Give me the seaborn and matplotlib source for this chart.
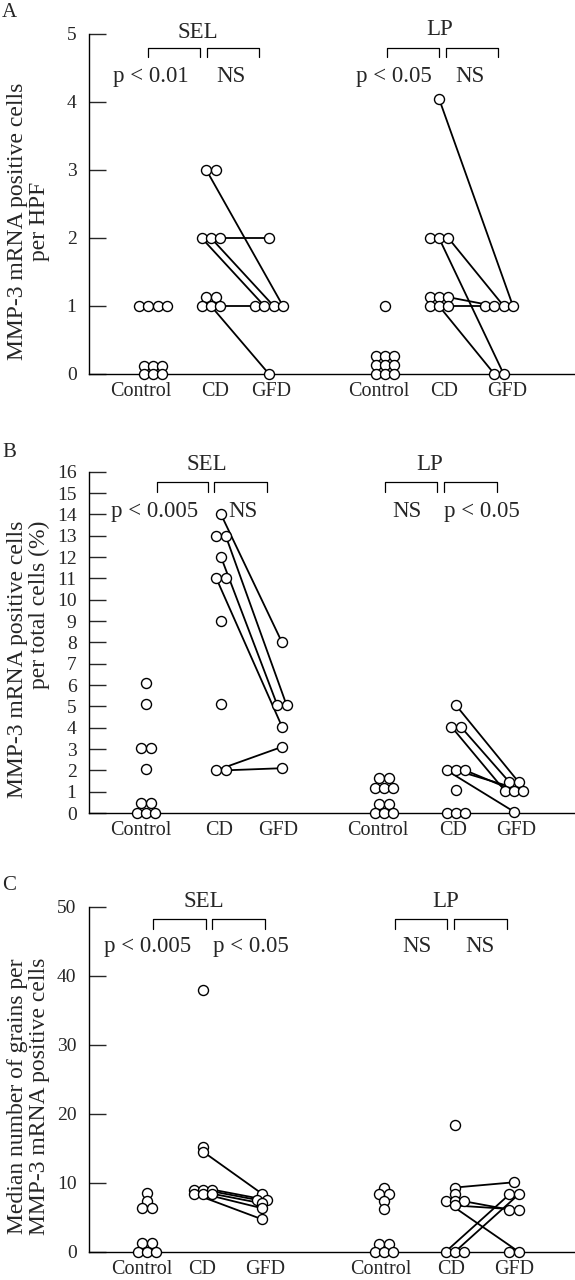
import numpy as np
import pandas as pd
import matplotlib
matplotlib.use("Agg")
import matplotlib.pyplot as plt
from matplotlib.lines import Line2D
import seaborn as sns
from collections import Counter, defaultdict

# ---- data ----
groups = ["Control", "CD", "GFD"]

# panel A: MMP-3 mRNA positive cells per HPF
a_sel_control = [1, 1, 1, 1, 0.12, 0.12, 0.12, 0, 0, 0]
a_sel_cd = [3, 3, 2, 2, 2, 1.13, 1.13, 1, 1, 1]
a_sel_gfd = [2, 1, 1, 1, 1, 0]
a_sel_pairs = [(0, 4), (4, 0), (2, 2), (3, 3), (9, 1), (8, 5)]
a_lp_control = [1, 0.26, 0.26, 0.26, 0.13, 0.13, 0.13, 0, 0, 0]
a_lp_cd = [4.05, 2, 2, 2, 1.13, 1.13, 1.13, 1, 1, 1]
a_lp_gfd = [1, 1, 1, 1, 0, 0]
a_lp_pairs = [(0, 3), (3, 2), (2, 5), (6, 1), (9, 0), (8, 4)]

# panel B: positive cells per total cells (%)
b_sel_control = [6.1, 5.1, 3.05, 3.05, 2.05, 0.45, 0.45, 0, 0, 0]
b_sel_cd = [14, 13, 13, 12, 11, 11, 9, 5.1, 2, 2]
b_sel_gfd = [8, 5.05, 5.05, 4.05, 3.1, 2.1]
b_sel_pairs = [(0, 0), (2, 2), (3, 1), (4, 3), (8, 4), (9, 5)]
b_lp_control = [1.62, 1.62, 1.19, 1.19, 1.19, 0.41, 0.41, 0, 0, 0]
b_lp_cd = [5.05, 4.05, 4.05, 2, 2, 2, 1.1, 0, 0, 0]
b_lp_gfd = [1.45, 1.45, 1.05, 1.05, 1.05, 0.06]
b_lp_pairs = [(0, 1), (2, 0), (1, 2), (5, 3), (4, 4), (3, 5)]

# panel C: median number of grains per positive cell
c_sel_control = [8.5, 7.3, 6.3, 6.3, 1.3, 1.3, 0, 0, 0]
c_sel_cd = [38, 15.2, 14.5, 9, 9, 9, 8.4, 8.4, 8.4]
c_sel_gfd = [8.4, 7.5, 7.5, 7.0, 6.3, 4.7]
c_sel_pairs = [(2, 0), (5, 2), (4, 1), (8, 3), (7, 4), (6, 5)]
c_lp_control = [9.2, 8.4, 8.4, 7.4, 6.2, 1.07, 1.07, 0, 0, 0]
c_lp_cd = [18.3, 9.3, 8.4, 7.3, 7.3, 7.3, 6.7, 0, 0, 0]
c_lp_gfd = [10.06, 8.3, 8.3, 6.1, 6.1, 0, 0]
c_lp_pairs = [(1, 0), (5, 3), (6, 4), (3, 6), (7, 1), (8, 2)]

# ---- layout (figure pixels, 575 x 1280) ----
W, H = 575, 1280
panels = [
    dict(letter="A", ymax=5, yticks=list(range(0, 6)), top=34, bottom=374,
         ylabel="MMP-3 mRNA positive cells\nper HPF", malign="center",
         sel=(a_sel_control, a_sel_cd, a_sel_gfd, a_sel_pairs),
         lp=(a_lp_control, a_lp_cd, a_lp_gfd, a_lp_pairs),
         centers=[153, 211, 269, 385, 439, 499],
         labels_x=[141, 215, 271, 379, 444, 507],
         head_y=(38, 35), br=(48, 57), p_y=82,
         sel_br=(148, 200, 207, 259), lp_br=(387, 439, 446, 498),
         sel_txt=(198, 151, 231, "p < 0.01", "NS"),
         lp_txt=(440, 394, 470, "p < 0.05", "NS"),
         letter_y=17),
    dict(letter="B", ymax=16, yticks=list(range(0, 17)), top=471.7, bottom=813,
         ylabel="MMP-3 mRNA positive cells\nper total cells (%)", malign="right",
         sel=(b_sel_control, b_sel_cd, b_sel_gfd, b_sel_pairs),
         lp=(b_lp_control, b_lp_cd, b_lp_gfd, b_lp_pairs),
         centers=[146, 221, 282, 384, 456, 514],
         labels_x=[141, 219, 278, 378, 453, 516],
         head_y=(470, 470), br=(481.7, 491.7), p_y=516.7,
         sel_br=(157, 208, 214, 267), lp_br=(385, 437, 444, 497),
         sel_txt=(207, 155, 243, "p < 0.005", "NS"),
         lp_txt=(430, 407, 482, "NS", "p < 0.05"),
         letter_y=457),
    dict(letter="C", ymax=50, yticks=list(range(0, 51, 10)), top=906.7, bottom=1251.7,
         ylabel="Median number of grains per\nMMP-3 mRNA positive cells", malign="center",
         sel=(c_sel_control, c_sel_cd, c_sel_gfd, c_sel_pairs),
         lp=(c_lp_control, c_lp_cd, c_lp_gfd, c_lp_pairs),
         centers=[147, 203, 262, 384, 455, 514],
         labels_x=[142, 202.5, 265, 381, 451, 514],
         head_y=(906.7, 906.7), br=(919, 929), p_y=951.7,
         sel_br=(153, 206, 212, 265), lp_br=(395, 447, 454, 507),
         sel_txt=(204, 148, 251, "p < 0.005", "p < 0.05"),
         lp_txt=(446, 417, 480, "NS", "NS"),
         letter_y=890),
]

DOT_STEP = 9.3


def spread(vals, center):
    # side-by-side placement of equal values, like the original dot plot
    counts = Counter(vals)
    seen = defaultdict(int)
    xs = []
    for v in vals:
        n = counts[v]
        i = seen[v]
        seen[v] += 1
        xs.append(center + (i - (n - 1) / 2) * DOT_STEP)
    return xs


def fx(x):
    return x / W


def fy(y):
    return 1 - y / H


sns.set_style("ticks")
plt.rcParams["font.family"] = ["Liberation Serif", "DejaVu Serif"]

fig = plt.figure(figsize=(W / 100, H / 100), dpi=100)

for p in panels:
    ax = fig.add_axes([fx(89), fy(p["bottom"]), (W - 89) / W, (p["bottom"] - p["top"]) / H])

    points = []
    lines = []
    for site, data, cens in (("SEL", p["sel"], p["centers"][:3]), ("LP", p["lp"], p["centers"][3:])):
        ctrl, cd, gfd, pairs = data
        xs = {}
        for g, vals, c in zip(groups, (ctrl, cd, gfd), cens):
            xs[g] = spread(vals, c)
            for x, v in zip(xs[g], vals):
                points.append(dict(site=site, group=g, x=x, value=v))
        for k, (ci, gi) in enumerate(pairs):
            lines.append(dict(pair=f"{site}{k}", x=xs["CD"][ci], value=cd[ci]))
            lines.append(dict(pair=f"{site}{k}", x=xs["GFD"][gi], value=gfd[gi]))
    pts = pd.DataFrame(points)
    lns = pd.DataFrame(lines)

    sns.lineplot(data=lns, x="x", y="value", units="pair", estimator=None, sort=False,
                 color="black", lw=1.3, ax=ax, legend=False, clip_on=False, zorder=2)
    sns.scatterplot(data=pts, x="x", y="value", ax=ax, s=52, color="white",
                    edgecolor="black", linewidth=1.0, legend=False, clip_on=False, zorder=3)

    ax.set_xlim(89, W)
    ax.set_ylim(0, p["ymax"])
    ax.set_yticks(p["yticks"])
    ax.set_yticklabels([str(t) for t in p["yticks"]])
    ax.set_xticks(p["labels_x"])
    ax.set_xticklabels(groups * 2)
    ax.tick_params(axis="y", direction="in", length=12, width=1, labelsize=14, pad=9)
    ax.tick_params(axis="x", length=0, labelsize=14.5, pad=6)
    ax.set_xlabel("")
    ax.set_ylabel(p["ylabel"], fontsize=17, multialignment=p["malign"], linespacing=1.05)
    ax.yaxis.set_label_coords(-0.08, 0.45)
    sns.despine(ax=ax)
    for s in ("left", "bottom"):
        ax.spines[s].set_linewidth(1.0)
        ax.spines[s].set_color("black")
    ax.patch.set_alpha(0)

    # panel letter
    fig.text(fx(2), fy(p["letter_y"]), p["letter"], fontsize=15, ha="left", va="baseline")

    # comparison brackets and labels
    y0, y1 = p["br"]
    for site, brk, txt, hy in (("SEL", p["sel_br"], p["sel_txt"], p["head_y"][0]),
                               ("LP", p["lp_br"], p["lp_txt"], p["head_y"][1])):
        for xa, xb in ((brk[0], brk[1]), (brk[2], brk[3])):
            fig.add_artist(Line2D([fx(xa), fx(xa), fx(xb), fx(xb)],
                                  [fy(y1), fy(y0), fy(y0), fy(y1)],
                                  color="black", lw=0.9, transform=fig.transFigure))
        fig.text(fx(txt[0]), fy(hy), site, fontsize=16.5, ha="center", va="baseline")
        fig.text(fx(txt[1]), fy(p["p_y"]), txt[3], fontsize=16.5, ha="center", va="baseline")
        fig.text(fx(txt[2]), fy(p["p_y"]), txt[4], fontsize=16.5, ha="center", va="baseline")

fig.savefig("out.png", dpi=100)
